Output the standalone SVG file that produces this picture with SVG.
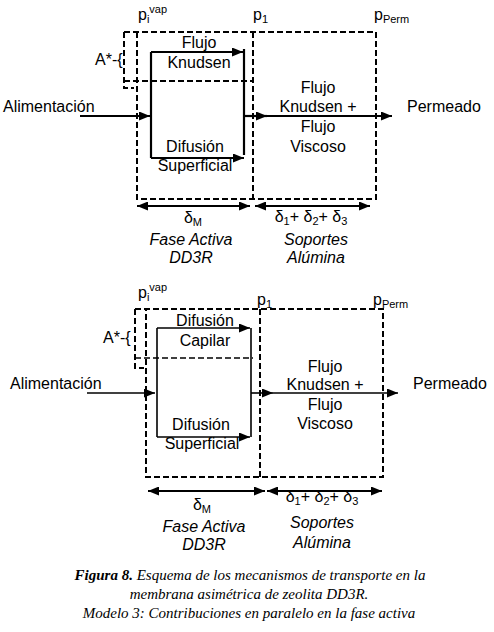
<svg xmlns="http://www.w3.org/2000/svg" width="494" height="632" viewBox="0 0 494 632">
<style>
.d{fill:none;stroke:#000;stroke-width:2;stroke-dasharray:6,3}
.s{fill:none;stroke:#000;stroke-width:2.2}
.t{font-family:"Liberation Sans",Arial,sans-serif;font-size:16px;fill:#000}
.c{text-anchor:middle}
.i{font-style:italic}
.cap{font-family:"Liberation Serif","Times New Roman",serif;font-size:15px;font-style:italic;text-anchor:middle;fill:#000}
</style>
<defs>
<marker id="ah" markerUnits="userSpaceOnUse" markerWidth="11" markerHeight="9" refX="11" refY="4.5" orient="auto-start-reverse">
<path d="M0,0 L11,4.5 L0,9 z" fill="#000"/>
</marker>
</defs>
<rect width="494" height="632" fill="#fff"/>
<g id="top">
<g id="top-zones">
<path class="d" d="M124,32 H376 V199 H137 V32"/>
<path class="d" d="M124,32 V88 H134"/>
<path class="d" d="M124,81 H253"/>
<path class="d" d="M253,32 V199"/>
</g>
<g id="top-connectors">
<path class="s" d="M151,52 V158"/>
<path class="s" d="M244,49 V155"/>
<path class="s" d="M151,52 H243" marker-end="url(#ah)"/>
<path class="s" d="M151,158 H244" marker-end="url(#ah)"/>
<path class="s" d="M80,116 H150" marker-end="url(#ah)"/>
<path class="s" d="M244,116 H267" marker-end="url(#ah)"/>
<path class="s" d="M267,116 H392" marker-end="url(#ah)"/>
<path class="s" d="M137,206 H250" marker-start="url(#ah)" marker-end="url(#ah)"/>
<path class="s" d="M255,206 H370" marker-start="url(#ah)" marker-end="url(#ah)"/>
</g>
<g id="top-labels">
<text class="t" x="138" y="20">p<tspan font-size="11" dy="3">i</tspan><tspan font-size="11" dy="-10">vap</tspan></text>
<text class="t" x="253" y="20">p<tspan font-size="11" dy="3">1</tspan></text>
<text class="t" x="374" y="20">p<tspan font-size="11" dy="3">Perm</tspan></text>
<text class="t" x="95" y="65">A*-{</text>
<text class="t c" x="199" y="48">Flujo</text>
<text class="t c" x="199" y="68">Knudsen</text>
<text class="t c" x="195" y="152">Difusión</text>
<text class="t c" x="195" y="171">Superficial</text>
<text class="t" x="3" y="112">Alimentación</text>
<text class="t" x="407" y="112">Permeado</text>
<text class="t c" x="318" y="93">Flujo</text>
<text class="t c" x="318" y="112">Knudsen +</text>
<text class="t c" x="318" y="132">Flujo</text>
<text class="t c" x="318" y="152">Viscoso</text>
<text class="t c" x="193" y="223">δ<tspan font-size="11" dy="3">M</tspan></text>
<text class="t c i" x="191" y="245">Fase Activa</text>
<text class="t c i" x="191" y="263">DD3R</text>
<text class="t c" x="311" y="222">δ<tspan font-size="11" dy="3">1</tspan><tspan dy="-3">+ δ</tspan><tspan font-size="11" dy="3">2</tspan><tspan dy="-3">+ δ</tspan><tspan font-size="11" dy="3">3</tspan></text>
<text class="t c i" x="316" y="245">Soportes</text>
<text class="t c i" x="316" y="263">Alúmina</text>
</g>
</g>
<g id="bottom">
<g id="bottom-zones">
<path class="d" d="M135,309 H383 V477 H146 V309"/>
<path class="d" d="M135,309 V368 H144"/>
<path class="d" d="M135,358 H253" style="stroke-width:1.5"/>
<path class="d" d="M260,309 V477"/>
</g>
<g id="bottom-connectors">
<path class="s" d="M157,328 V437" style="stroke-width:1.6"/>
<path class="s" d="M251,328 V437" style="stroke-width:1.6"/>
<path class="s" d="M157,328 H250" style="stroke-width:1.6" marker-end="url(#ah)"/>
<path class="s" d="M157,437 H250" style="stroke-width:1.6" marker-end="url(#ah)"/>
<path class="s" d="M87,393 H155" style="stroke-width:1.6" marker-end="url(#ah)"/>
<path class="s" d="M251,393 H273" style="stroke-width:1.6" marker-end="url(#ah)"/>
<path class="s" d="M273,393 H398" style="stroke-width:1.6" marker-end="url(#ah)"/>
<path class="s" d="M148,491 H265" marker-start="url(#ah)" marker-end="url(#ah)"/>
<path class="s" d="M267,491 H382" marker-start="url(#ah)" marker-end="url(#ah)"/>
</g>
<g id="bottom-labels">
<text class="t" x="138" y="298">p<tspan font-size="11" dy="3">i</tspan><tspan font-size="11" dy="-10">vap</tspan></text>
<text class="t" x="257" y="305">p<tspan font-size="11" dy="3">1</tspan></text>
<text class="t" x="373" y="305">p<tspan font-size="11" dy="3">Perm</tspan></text>
<text class="t" x="103" y="343">A*-{</text>
<text class="t c" x="205" y="326">Difusión</text>
<text class="t c" x="205" y="346">Capilar</text>
<text class="t c" x="201" y="430">Difusión</text>
<text class="t c" x="202" y="449">Superficial</text>
<text class="t" x="10" y="389">Alimentación</text>
<text class="t" x="413" y="389">Permeado</text>
<text class="t c" x="325" y="372">Flujo</text>
<text class="t c" x="325" y="390">Knudsen +</text>
<text class="t c" x="325" y="410">Flujo</text>
<text class="t c" x="325" y="429">Viscoso</text>
<text class="t c" x="202" y="510">δ<tspan font-size="11" dy="3">M</tspan></text>
<text class="t c i" x="204" y="532">Fase Activa</text>
<text class="t c i" x="204" y="550">DD3R</text>
<text class="t c" x="322" y="502">δ<tspan font-size="11" dy="3">1</tspan><tspan dy="-3">+ δ</tspan><tspan font-size="11" dy="3">2</tspan><tspan dy="-3">+ δ</tspan><tspan font-size="11" dy="3">3</tspan></text>
<text class="t c i" x="322" y="528">Soportes</text>
<text class="t c i" x="322" y="548">Alúmina</text>
</g>
</g>
<g id="caption">
<text class="cap" x="250" y="580"><tspan font-weight="bold">Figura 8.</tspan> Esquema de los mecanismos de transporte en la</text>
<text class="cap" x="249" y="599">membrana asimétrica de zeolita DD3R.</text>
<text class="cap" x="249" y="618">Modelo 3: Contribuciones en paralelo en la fase activa</text>
</g>
</svg>
